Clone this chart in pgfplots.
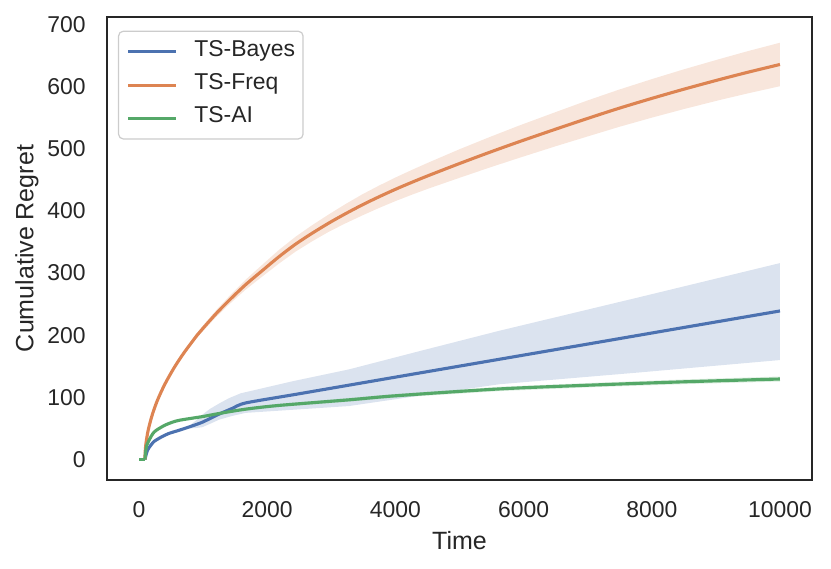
\documentclass[border=0pt]{standalone}
\usepackage{fontspec}
\setmainfont{Liberation Sans}
\usepackage{pgfplots}
\pgfplotsset{compat=1.18}
\definecolor{sbblue}{HTML}{4C72B0}
\definecolor{sborange}{HTML}{DD8452}
\definecolor{sbgreen}{HTML}{55A868}
\definecolor{txt}{HTML}{262626}
\begin{document}
\begin{tikzpicture}
\useasboundingbox (-53.5bp,-44.5bp) rectangle (362bp,240bp);
\begin{axis}[
  at={(0,0)}, anchor=south west,
  width=352.5bp, height=231.5bp, scale only axis,
  xmin=-500, xmax=10500, ymin=-33, ymax=712,
  xtick={0,2000,...,10000}, ytick={0,100,...,700},
  scaled x ticks=false,
  /pgf/number format/1000 sep={},
  /pgf/number format/assume math mode=true,
  major tick length=0pt,
  axis line style={line width=1.3bp, draw=txt},
  tick label style={font=\fontsize{11.46bp}{13bp}\selectfont, color=txt},
  xticklabel style={anchor=north, inner sep=0pt, yshift=-10.5bp},
  yticklabel style={anchor=east, inner sep=0pt, xshift=-10.5bp},
  xlabel={Time}, ylabel={Cumulative Regret},
  every axis x label/.style={at={(axis description cs:0.5,0)}, anchor=base, yshift=-34.5bp, font=\fontsize{12.5bp}{15bp}\selectfont, color=txt},
  every axis y label/.style={at={(axis description cs:0,0.5)}, xshift=-36.75bp, rotate=90, anchor=base, font=\fontsize{12.5bp}{15bp}\selectfont, color=txt},
  legend cell align=left,
  legend image code/.code={\draw[#1] (0bp,0bp) -- (24bp,0bp);},
  legend style={at={(axis description cs:0,1)}, anchor=north west, xshift=5.5bp, yshift=-6.85bp,
    draw=black!20, line width=0.6bp, rounded corners=2.3bp, fill=white,
    inner xsep=4bp, inner ysep=1.9bp, row sep=0pt,
    font=\fontsize{11.46bp}{13bp}\selectfont, text=txt,
    nodes={inner sep=0pt, text height=10.6bp, text depth=6.07bp},
    /tikz/every odd column/.append style={column sep=8.35bp}},
]
% ---------- TS-Bayes ----------
\addplot[draw=none, fill=sbblue, fill opacity=0.2, forget plot] coordinates {
(600,47) (700,50) (780,54) (880,62) (988,72) (1100,81) (1248,90) (1400,98.5) (1586,106.5) (2400,126) (3276,145) (4400,175) (5616,207) (7800,261) (10000,316)
(10000,160) (7800,140) (5616,121) (4400,103) (3276,86) (2400,80) (1664,75) (1450,70) (1248,64) (1100,57) (988,52) (880,50.5) (780,50) (700,48) (600,46.5)};
\addplot[sbblue, line width=1.56bp, forget plot] coordinates {(0,0) (92,0)};
\addplot[sbblue, line width=1.56bp, smooth, tension=0.4] coordinates {
(92,0) (104,5) (125,13) (156,19) (234,29) (364,37) (468,42) (624,47) (800,53) (988,60)
(1248,73) (1450,82) (1664,91) (2500,105.8) (4000,132.5) (5500,159.1) (7000,185.7) (8500,212.4) (10000,239)};
\addlegendentry{TS-Bayes}
% ---------- TS-Freq ----------
\addplot[draw=none, fill=sborange, fill opacity=0.2, forget plot] coordinates {
(92,0) (110,28) (130,41.4) (156,54) (208,73.5) (286,96.5) (400,122.6) (546,149.9) (700,174.5) (910,204.5) (1000,215.8)
(1200,239.9) (1404,262.4) (1660,289) (1924,313.5) (2180,337) (2444,358.6) (2700,377) (2964,394.6) (3220,410.9) (3484,426.7)
(3740,440.5) (4004,453.9) (4264,466.3) (4524,478.2) (5000,499.2) (5460,518.4) (5928,537.2) (6500,559) (7000,577.8) (7488,595.1)
(8000,612) (8500,627.8) (9048,644.1) (9500,657.1) (10000,670.6)
(10000,600.6) (9500,589.1) (9048,578.1) (8500,563.8) (8000,550) (7488,535.1) (7000,519.8) (6500,504) (5928,485.2) (5460,469.4)
(5000,453.2) (4524,436.2) (4264,426.3) (4004,415.9) (3740,404.5) (3484,392.7) (3220,379.9) (2964,366.6) (2700,351) (2444,334.6)
(2180,315) (1924,294.5) (1660,273) (1404,249.4) (1200,228.9) (1000,206.8) (910,196.5) (700,168.5) (546,144.9) (400,118.6)
(286,93.5) (208,71.5) (156,52) (130,39.8) (110,27) (92,0)};
\addplot[sborange, line width=1.56bp, forget plot] coordinates {(0,0) (92,0)};
\addplot[sborange, line width=1.56bp, smooth, tension=0.5] coordinates {
(92,0) (95,10.8) (100,18) (110,27.5) (130,40.6) (156,53) (208,72.5) (286,95) (400,120.6) (546,147.4) (700,171.5)
(910,200.5) (1000,211.3) (1200,234.4) (1404,255.9) (1660,281) (1924,304) (2180,326) (2444,346.6) (2700,364) (2964,380.6)
(3220,395.4) (3484,409.7) (3740,422.5) (4004,434.9) (4264,446.3) (4524,457.2) (5000,476.2) (5460,493.9) (5928,511.2) (6500,531.5)
(7000,548.8) (7488,565.1) (8000,581) (8500,595.8) (9048,611.1) (9500,623.1) (10000,635.6)};
\addlegendentry{TS-Freq}
% ---------- TS-AI ----------
\addplot[draw=none, fill=sbgreen, fill opacity=0.2, forget plot] coordinates {
(234,44.5) (364,54.5) (468,59.5) (624,64.5) (988,71) (1248,76) (1664,83.5) (2184,89.5) (3276,99) (4000,105.5) (5616,117) (7000,123) (8500,128.8) (10000,133.5)
(10000,125.5) (8500,121.2) (7000,116) (5616,110) (4000,99.5) (3276,93) (2184,84.5) (1664,78.5) (1248,72) (988,67) (624,61.5) (468,56.5) (364,52.5) (234,43.5)};
\addplot[sbgreen, line width=1.56bp, forget plot] coordinates {(0,0) (92,0)};
\addplot[sbgreen, line width=1.56bp, smooth, tension=0.5] coordinates {
(92,0) (104,14) (125,24) (156,31) (234,44) (364,53) (468,58) (624,63) (988,69) (1248,74)
(1664,81) (2184,87) (3276,96) (4000,102.5) (5616,113.5) (7000,119.5) (8500,125) (10000,129.5)};
\addlegendentry{TS-AI}
\end{axis}
\end{tikzpicture}
\end{document}
